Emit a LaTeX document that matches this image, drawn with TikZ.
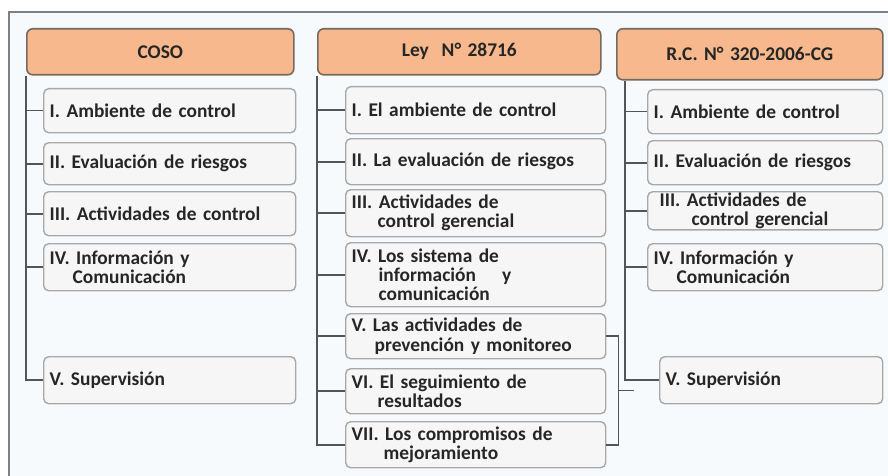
\documentclass[tikz,border=0pt]{standalone}
\usepackage{fontspec}
\setmainfont{Carlito}
\usetikzlibrary{calc}
\definecolor{headfill}{HTML}{F6B88C}
\definecolor{headline}{HTML}{76695F}
\definecolor{boxfill}{HTML}{F6F6F6}
\definecolor{boxline}{HTML}{A8A8A8}
\definecolor{bgblue}{HTML}{F7FAFD}
\definecolor{txt}{HTML}{262626}
\definecolor{wire}{HTML}{555555}

\begin{document}
\begin{tikzpicture}
 [x=0.5pt, y=-0.5pt,
  every node/.style={font=\fontsize{9.7}{9.6}\selectfont\bfseries, text=txt},
  head/.style={draw=headline, fill=headfill, line width=0.8pt, rounded corners=3pt,
    anchor=north west, text width=#1, align=center, inner xsep=0pt},
  item/.style={draw=boxline, fill=boxfill, line width=0.7pt, rounded corners=2.5pt,
    anchor=north west, text width=#1, align=left, inner xsep=3pt, inner ysep=0.5pt},
  conn/.style={draw=wire, line width=0.8pt}]

  \useasboundingbox (0,0) rectangle (888,476);
  \fill[bgblue] (9,12) rectangle (888,476);
  \draw[gray, line width=0.6pt] (9,476) -- (9,12) -- (888,12);

  % COSO
  \node[head=133.5pt, minimum height=23pt] (coso) at (26,28) {COSO};
  \node[item=120pt, minimum height=22pt] (c1) at (43,88) {I. Ambiente de control};
  \node[item=120pt, minimum height=21pt] (c2) at (43,142) {II. Evaluación de riesgos};
  \node[item=120pt, minimum height=22pt] (c3) at (43,191) {III. Actividades de control};
  \node[item=120pt, minimum height=23.5pt] (c4) at (43,243)
    {IV. Información y\\\hspace*{11.5pt}Comunicación};
  \node[item=120pt, minimum height=23.5pt] (c5) at (43,356) {V. Supervisión};

  % Ley
  \node[head=141.5pt, minimum height=23pt] (ley) at (317,28) {Ley\ \ N° 28716};
  \node[item=124pt, minimum height=23.5pt] (l1) at (345,86) {I. El ambiente de control};
  \node[item=124pt, minimum height=23pt] (l2) at (345,138) {II. La evaluación de riesgos};
  \node[item=124pt, minimum height=23.5pt] (l3) at (345,189)
    {III. Actividades de\\\hspace*{13pt}control gerencial};
  \node[item=124pt, minimum height=32pt] (l4) at (345,242)
    {IV. Los sistema de\\\hspace*{13.5pt}información\hspace{13pt}y\\\hspace*{13.5pt}comunicación};
  \node[item=124pt, minimum height=22.5pt] (l5) at (345,313)
    {V. Las actividades de\\\hspace*{11.5pt}prevención y monitoreo};
  \node[item=124pt, minimum height=22.5pt] (l6) at (345,368)
    {VI. El seguimiento de\\\hspace*{13pt}resultados};
  \node[item=124pt, minimum height=23pt] (l7) at (345,421)
    {VII. Los compromisos de\\\hspace*{16pt}mejoramiento};

  % R.C.
  \node[head=133pt, minimum height=25.5pt] (rc) at (616,28) {R.C. N° 320-2006-CG};
  \node[item=111.5pt, minimum height=22pt] (r1) at (647,89) {I. Ambiente de control};
  \node[item=111.5pt, minimum height=22pt] (r2) at (647,140) {II. Evaluación de riesgos};
  \node[item=111.5pt, minimum height=18.5pt] (r3) at (647,191)
    {\hspace*{3pt}III. Actividades de\\\hspace*{19pt}control gerencial};
  \node[item=111.5pt, minimum height=23.5pt] (r4) at (647,243)
    {IV. Información y\\\hspace*{11.5pt}Comunicación};
  \node[item=105.5pt, minimum height=23.5pt] (r5) at (659,356) {V. Supervisión};

  % connectors
  \draw[conn] (coso.south west) |- (c5.west);
  \foreach \n in {c1,c2,c3,c4} \draw[conn] (coso.south west |- \n.west) -- (\n.west);

  \draw[conn] (ley.south west) |- (l7.west);
  \foreach \n in {l1,l2,l3,l4,l5,l6} \draw[conn] (ley.south west |- \n.west) -- (\n.west);

  \coordinate (rcl) at ([xshift=4.5pt]rc.south west);
  \draw[conn] (rcl) |- (r5.west);
  \foreach \n in {r1,r2,r3,r4} \draw[conn] (rcl |- \n.west) -- (\n.west);

  \draw[conn] (l5.east) -- ++(12,0) |- (l7.east);
  \coordinate (brk) at ($(l5.east)!0.5!(l7.east)+(12,0)$);
  \draw[conn] (brk) -- ++(16,0);
\end{tikzpicture}
\end{document}
